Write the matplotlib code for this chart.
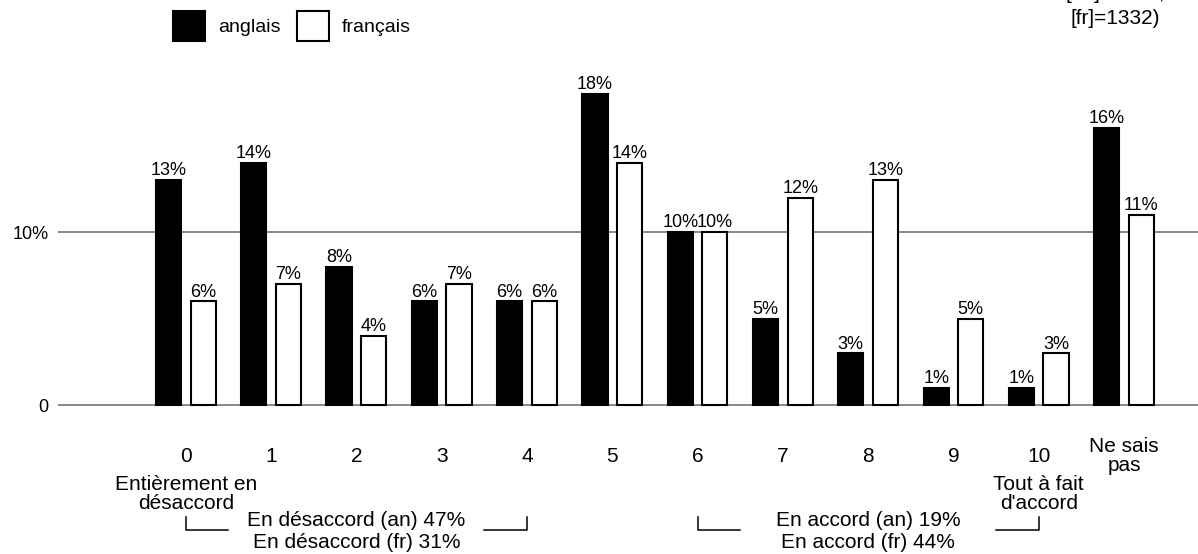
import matplotlib
matplotlib.use("Agg")
import matplotlib.pyplot as plt
from matplotlib.patches import Patch
from matplotlib.transforms import blended_transform_factory
import numpy as np

plt.rcParams["font.family"] = ["Liberation Sans", "DejaVu Sans"]

categories = ["0", "1", "2", "3", "4", "5", "6", "7", "8", "9", "10", "Ne sais\npas"]
anglais = [13, 14, 8, 6, 6, 18, 10, 5, 3, 1, 1, 16]
francais = [6, 7, 4, 7, 6, 14, 10, 12, 13, 5, 3, 11]
series_names = ["anglais", "français"]
yticks = [0, 10]
ytick_labels = ["0", "10%"]
end_notes = {0: "Entièrement en\ndésaccord", 10: "Tout à fait\nd'accord"}
groups = [
    (0, 4, "En désaccord (an) 47%", "En désaccord (fr) 31%"),
    (6, 10, "En accord (an) 19%", "En accord (fr) 44%"),
]
sample_note = "[an]=1000,\n[fr]=1332)"

W, H = 1198, 554
fig = plt.figure(figsize=(W / 100, H / 100), dpi=100)
ax = fig.add_axes([58 / W, 1 - 414 / H, 1 - 58 / W, (414 - 59) / H])


def fy(px):
    # pixel row from the top -> figure fraction
    return 1 - px / H


x = np.arange(len(categories))
width = 0.295
off = 0.203

ax.bar(x - off, anglais, width, color="black", edgecolor="black", linewidth=1.5, zorder=3)
ax.bar(x + off, francais, width, color="white", edgecolor="black", linewidth=1.5, zorder=3)

for xi, v in zip(x, anglais):
    ax.annotate(f"{v}%", (xi - off, v), xytext=(0, 3.5), textcoords="offset points",
                ha="center", va="baseline", fontsize=13)
for xi, v in zip(x, francais):
    ax.annotate(f"{v}%", (xi + off, v), xytext=(0, 3.5), textcoords="offset points",
                ha="center", va="baseline", fontsize=13)

ax.set_xlim(-1.498, 11.867)
ax.set_ylim(-0.5, 20)
ax.set_yticks(yticks)
ax.set_yticklabels(ytick_labels, fontsize=13)
ax.tick_params(axis="y", length=0, pad=7)
ax.set_xticks([])
ax.yaxis.grid(True, color="#888888", linewidth=1.4, zorder=0)
ax.set_axisbelow(True)
for s in ax.spines.values():
    s.set_visible(False)

tr = blended_transform_factory(ax.transData, fig.transFigure)

for xi, lab in zip(x, categories):
    ax.text(xi, fy(456), lab, transform=tr, ha="center", va="center",
            fontsize=15, linespacing=1.0)
for xi, lab in end_notes.items():
    ax.text(xi, fy(494), lab, transform=tr, ha="center", va="center",
            fontsize=15, linespacing=1.0)

for a, b, t1, t2 in groups:
    ax.plot([a, a, a + 0.5], [fy(517), fy(530), fy(530)], color="black",
            linewidth=1.1, transform=tr, clip_on=False)
    ax.plot([b - 0.5, b, b], [fy(530), fy(530), fy(517)], color="black",
            linewidth=1.1, transform=tr, clip_on=False)
    mid = (a + b) / 2
    ax.text(mid, fy(521), t1, transform=tr, ha="center", va="center", fontsize=15)
    ax.text(mid, fy(543), t2, transform=tr, ha="center", va="center", fontsize=15)

handles = [Patch(facecolor="black", edgecolor="black", linewidth=1.5),
           Patch(facecolor="white", edgecolor="black", linewidth=1.5)]
fig.legend(handles, series_names, loc="upper left", bbox_to_anchor=(173 / W, fy(11)),
           ncol=2, frameon=False, fontsize=14, handlelength=1.65, handleheight=2.0,
           handletextpad=0.65, columnspacing=0.85, borderpad=0, borderaxespad=0)

fig.text(1115 / W, fy(28), sample_note, ha="center", va="bottom", fontsize=15,
         linespacing=1.4)

fig.savefig("out.png", dpi=100)
